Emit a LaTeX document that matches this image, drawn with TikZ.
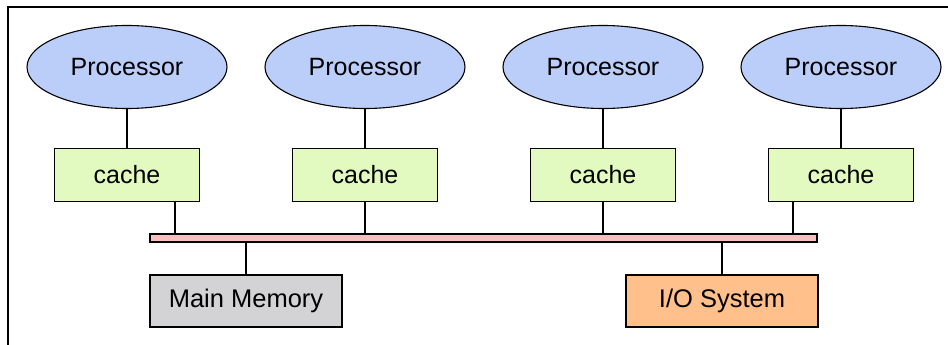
\documentclass[tikz,border=0pt]{standalone}
\usepackage{fontspec}
\setmainfont{Liberation Sans}
\usetikzlibrary{shapes.geometric,calc}

\definecolor{procblue}{RGB}{187,206,250}
\definecolor{cachegreen}{RGB}{226,250,192}
\definecolor{buspink}{RGB}{255,190,190}
\definecolor{memgray}{RGB}{211,211,213}
\definecolor{ioorange}{RGB}{255,192,140}

\tikzset{
  proc/.style={ellipse,draw,line width=1.1pt,fill=procblue,minimum width=200pt,minimum height=83pt,inner sep=0pt,font=\fontsize{25}{30}\selectfont},
  cachebox/.style={rectangle,draw,line width=1.1pt,fill=cachegreen,minimum width=145pt,minimum height=53pt,inner sep=0pt,font=\fontsize{25}{30}\selectfont},
  unit/.style={rectangle,draw,line width=1.1pt,minimum width=192pt,minimum height=52pt,inner sep=0pt,font=\fontsize{25.5}{30}\selectfont},
  wire/.style={line width=1.1pt}
}

\begin{document}
\begin{tikzpicture}[x=1pt,y=-1pt]
                \useasboundingbox (0,0) rectangle (948,345);
                % frame, only top and left edges
                \draw[line width=1.4pt] (8,345)--(8,7)--(948,7);
                % processors with their caches
                \foreach \i/\x in {1/127,2/365,3/603,4/841}{
                  \node[proc] (p\i) at (\x,67) {Processor};
                  \node[cachebox] (c\i) at (\x,175) {cache};
                  \draw[wire] (p\i.south)--(c\i.north);
                }
                % bus
                \node[rectangle,draw,line width=1.1pt,fill=buspink,minimum width=667pt,minimum height=8pt,inner sep=0pt] (bus) at (483.5,238) {};
                \coordinate (t1) at ($(c1.south)+(48,0)$);
                \coordinate (t4) at ($(c4.south)+(-48,0)$);
                \draw[wire] (t1)--(t1 |- bus.north);
                \draw[wire] (c2.south)--(c2.south |- bus.north);
                \draw[wire] (c3.south)--(c3.south |- bus.north);
                \draw[wire] (t4)--(t4 |- bus.north);
                % memory and I/O below the bus
                \node[unit,fill=memgray] (mem) at (246,301) {Main Memory};
                \node[unit,fill=ioorange] (io) at (722,301) {I/O System};
                \draw[wire] (mem.north)--(mem.north |- bus.south);
                \draw[wire] (io.north)--(io.north |- bus.south);
            \end{tikzpicture}
\end{document}
